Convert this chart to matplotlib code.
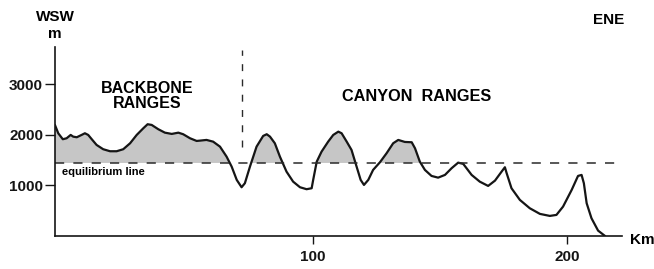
import matplotlib.pyplot as plt
import numpy as np

plt.rcParams['font.family'] = ['Liberation Sans', 'DejaVu Sans']

# topographic profile, WSW -> ENE (km, m)
dist_km = [-1.6, -0.3, 1.5, 3.0, 4.6, 5.6, 7.0, 8.9, 10.2, 11.5, 12.9, 14.8, 17.4, 20.1,
           22.7, 25.3, 28.0, 30.6, 33.2, 34.9, 36.5, 39.1, 41.7, 44.4, 47.0, 48.9, 51.6,
           54.2, 55.5, 58.1, 60.7, 63.4, 66.0, 68.0, 70.0, 71.9, 73.2, 75.2, 77.8, 80.4,
           81.8, 83.1, 85.0, 87.0, 89.6, 92.2, 94.9, 97.5, 99.5, 100.1, 101.5, 103.4,
           106.0, 108.0, 110.0, 111.3, 113.3, 115.2, 117.2, 118.8, 120.1, 121.8, 123.7,
           126.4, 129.0, 131.6, 133.6, 136.2, 138.9, 140.2, 142.1, 144.1, 146.7, 149.3,
           152.0, 154.6, 157.2, 159.2, 162.5, 165.7, 169.0, 171.7, 174.3, 175.6, 176.3,
           178.2, 181.5, 185.4, 189.4, 193.3, 195.9, 198.5, 201.9, 204.4, 205.8, 206.7,
           207.8, 209.7, 212.3, 215.0]
elev_m = [2198, 2033, 1915, 1934, 2000, 1966, 1954, 2000, 2033, 2000, 1915, 1802, 1717, 1677,
          1677, 1717, 1835, 2000, 2132, 2212, 2198, 2113, 2045, 2020, 2045, 2014, 1934,
          1881, 1887, 1901, 1867, 1768, 1570, 1372, 1109, 964, 1043, 1372, 1768, 1980,
          2014, 1966, 1835, 1570, 1273, 1075, 964, 925, 944, 1109, 1471, 1669,
          1867, 2000, 2065, 2033, 1867, 1703, 1372, 1109, 1010, 1109, 1307,
          1459, 1637, 1835, 1901, 1861, 1855, 1736, 1471, 1307, 1188, 1154,
          1208, 1340, 1451, 1426, 1208, 1075, 990, 1095, 1273, 1360, 1241,
          944, 713, 548, 436, 396, 416, 580, 911, 1188, 1208, 1043,
          647, 350, 105, 0]
eq_line = 1445
eq_extent = [-1.6, 221]
divide_km = 72
divide_range = [1762, 3683]

fig = plt.figure(figsize=(6.54, 2.69), dpi=100)
ax = fig.add_axes([0.084, 0.123, 0.867, 0.702])

x = np.array(dist_km)
y = np.array(elev_m)
ax.fill_between(x, y, eq_line, where=y > eq_line, interpolate=True,
                color='#c6c6c6', lw=0)
ax.plot(x, y, color='#151515', lw=1.6, solid_joinstyle='round', solid_capstyle='round')
ax.plot(eq_extent, [eq_line, eq_line], color='#2a2a2a', lw=1.1, dashes=(6, 6))
ax.plot([divide_km, divide_km], divide_range, color='#2a2a2a', lw=1.0, dashes=(5, 6))

ax.set_xlim(-1.6, 221.7)
ax.set_ylim(0, 3740)
ax.set_xticks([100, 200])
ax.set_yticks([1000, 2000, 3000])
ax.tick_params(axis='y', labelsize=11, length=7, width=1, pad=1.5, colors='#151515')
ax.tick_params(axis='x', labelsize=11, length=6, width=1, pad=4, colors='#151515')
for lab in ax.get_xticklabels() + ax.get_yticklabels():
    lab.set_fontweight('bold')
for s in ['top', 'right']:
    ax.spines[s].set_visible(False)
for s in ['left', 'bottom']:
    ax.spines[s].set_color('#151515')
    ax.spines[s].set_linewidth(1.2)

fig.text(55 / 654, 1 - 17 / 269, 'WSW', ha='center', va='center', fontsize=11, fontweight='bold')
fig.text(55 / 654, 1 - 34 / 269, 'm', ha='center', va='center', fontsize=11, fontweight='bold')
fig.text(609 / 654, 1 - 20.5 / 269, 'ENE', ha='center', va='center', fontsize=11, fontweight='bold')
fig.text(642 / 654, 1 - 240.5 / 269, 'Km', ha='center', va='center', fontsize=11, fontweight='bold')
fig.text(147 / 654, 1 - 96 / 269, 'BACKBONE\nRANGES', ha='center', va='center',
         fontsize=11.5, fontweight='bold', linespacing=1.05)
fig.text(417 / 654, 1 - 96.5 / 269, 'CANYON  RANGES', ha='center', va='center',
         fontsize=11.7, fontweight='bold')
fig.text(62 / 654, 1 - 171.7 / 269, 'equilibrium line', ha='left', va='center',
         fontsize=8, fontweight='bold')

fig.savefig('out.png', dpi=100)
